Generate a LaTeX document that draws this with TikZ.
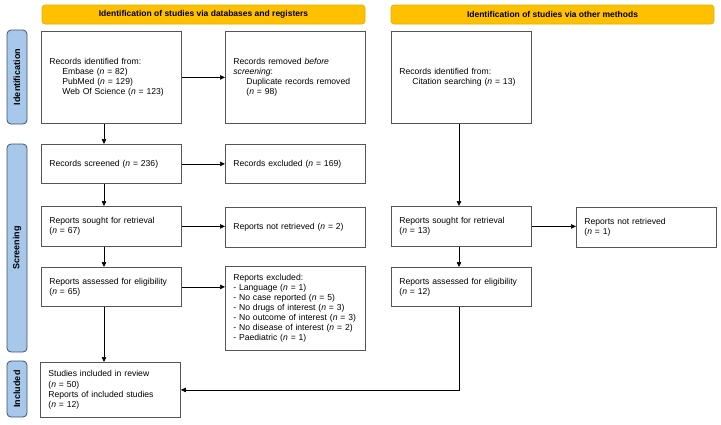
\documentclass[tikz,border=0pt]{standalone}
\usepackage{fontspec}
\setmainfont{Liberation Sans}
\usetikzlibrary{arrows.meta}

\definecolor{hdrfill}{HTML}{FFC000}
\definecolor{hdrline}{HTML}{E3AD00}
\definecolor{sidefill}{HTML}{A7C8EA}
\definecolor{sideline}{HTML}{3F4F6B}
\definecolor{boxline}{HTML}{555555}

\tikzset{
  box/.style={draw=boxline, line width=0.8pt, anchor=north west, align=left,
    inner xsep=8pt, inner ysep=2pt, text width=124pt, minimum height=#1,
    font=\fontsize{8.6}{10.1}\selectfont},
  header/.style={draw=hdrline, fill=hdrfill, rounded corners=3pt, line width=0.6pt,
    minimum width=323pt, minimum height=19pt, inner sep=0pt,
    font=\fontsize{8.5}{9}\selectfont\bfseries},
  side/.style={draw=sideline, fill=sidefill, rounded corners=4pt, line width=0.8pt,
    rotate=90, minimum width=#1, minimum height=20pt, inner sep=0pt,
    font=\fontsize{9}{9}\selectfont\bfseries},
  flow/.style={-{Triangle[length=5pt,width=4.5pt]}, line width=0.7pt, black}
}

\begin{document}
\begin{tikzpicture}[x=1pt, y=-1pt]
    \useasboundingbox (0, 0) rectangle (721, 424);

    % phase headers and side labels
    \node[header] (hdbase) at (203.5, 14.5) {Identification of studies via databases and registers};
    \node[header] (hdother) at (552.5, 14.5) {Identification of studies via other methods};
    \node[side=94pt] (sident) at (17, 77) {Identification};
    \node[side=208pt] (sscreen) at (17, 248) {Screening};
    \node[side=56pt] (sincl) at (17, 389) {Included};

    % databases and registers
    \node[box=92pt] (ident) at (41, 31) {Records identified from:\\
        \hspace*{13pt}Embase (\textit{n} = 82)\\
        \hspace*{13pt}PubMed (\textit{n} = 129)\\
        \hspace*{13pt}Web Of Science (\textit{n} = 123)};
    \node[box=92pt] (removed) at (225, 31) {Records removed \textit{before}\\
        \textit{screening}:\\
        \hspace*{13pt}Duplicate records removed\\
        \hspace*{13pt}(\textit{n} = 98)};
    \node[box=39pt] (screened) at (41, 144) {Records screened (\textit{n} = 236)};
    \node[box=39pt] (excluded) at (225, 144) {Records excluded (\textit{n} = 169)};
    \node[box=40pt] (sought) at (41, 206) {Reports sought for retrieval\\(\textit{n} = 67)};
    \node[box=40pt] (notret) at (225, 207) {Reports not retrieved (\textit{n} = 2)};
    \node[box=39pt] (assessed) at (41, 267) {Reports assessed for eligibility\\(\textit{n} = 65)};
    \node[box=84pt] (repexcl) at (225, 266) {Reports excluded:\\
        - Language (\textit{n} = 1)\\
        - No case reported (\textit{n} = 5)\\
        - No drugs of interest (\textit{n} = 3)\\
        - No outcome of interest (\textit{n} = 3)\\
        - No disease of interest (\textit{n} = 2)\\
        - Paediatric (\textit{n} = 1)};
    \node[box=55pt] (included) at (40, 362) {Studies included in review\\
        (\textit{n} = 50)\\
        Reports of included studies\\
        (\textit{n} = 12)};

    % other methods
    \node[box=92pt] (identother) at (391, 31) {Records identified from:\\
        \hspace*{13pt}Citation searching (\textit{n} = 13)};
    \node[box=40pt] (soughtother) at (391, 206) {Reports sought for retrieval\\(\textit{n} = 13)};
    \node[box=40pt] (notretother) at (576, 207) {Reports not retrieved\\(\textit{n} = 1)};
    \node[box=39pt] (assessedother) at (391, 267) {Reports assessed for eligibility\\(\textit{n} = 12)};

    \coordinate (colA) at (104, 0);
    \coordinate (colB) at (459, 0);

    % arrows
    \draw[flow] (ident) -- (removed);
    \draw[flow] (ident.south -| colA) -- (screened.north -| colA);
    \draw[flow] (screened) -- (excluded);
    \draw[flow] (screened.south -| colA) -- (sought.north -| colA);
    \draw[flow] (sought.east) -- (sought.east -| notret.west);
    \draw[flow] (sought.south -| colA) -- (assessed.north -| colA);
    \draw[flow] (assessed.east) -- (assessed.east -| repexcl.west);
    \draw[flow] (assessed.south -| colA) -- (included.north -| colA);
    \draw[flow] (identother.south -| colB) -- (soughtother.north -| colB);
    \draw[flow] (soughtother.east) -- (soughtother.east -| notretother.west);
    \draw[flow] (soughtother.south -| colB) -- (assessedother.north -| colB);
    \draw[flow] (assessedother.south -| colB) |- (included.east);
\end{tikzpicture}
\end{document}
